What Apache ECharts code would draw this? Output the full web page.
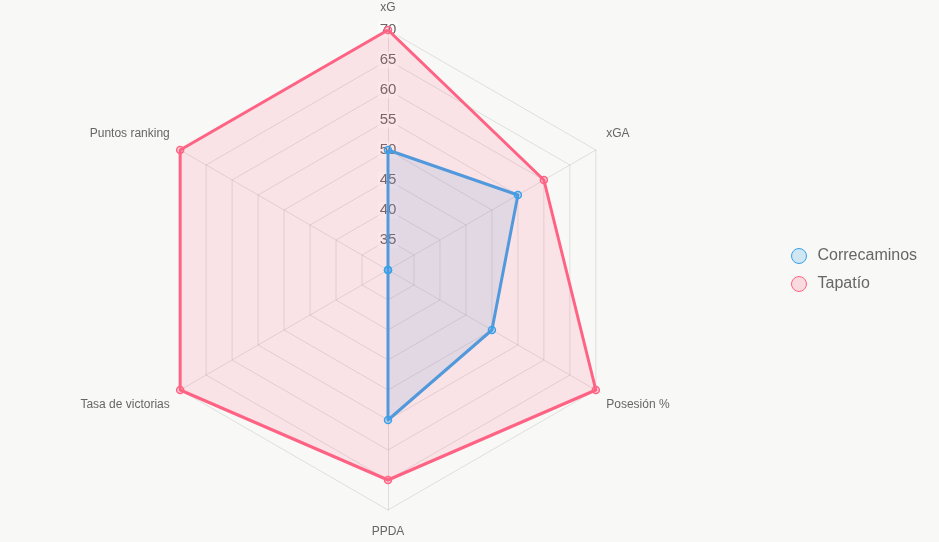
<!DOCTYPE html>
<html>
<head>
<meta charset="utf-8">
<script src="https://cdn.jsdelivr.net/npm/echarts@6/dist/echarts.min.js"></script>
<style>
  html, body { margin: 0; padding: 0; background: #f8f8f6; }
  #chart { width: 939px; height: 542px; }
</style>
</head>
<body>
<div id="chart"></div>
<script>
// axes in clockwise order starting at the top
var categories = ['xG', 'xGA', 'Posesión %', 'PPDA', 'Tasa de victorias', 'Puntos ranking'];
var correcaminos = [50, 55, 50, 55, 30, 30];
var tapatio = [70, 60, 70, 65, 70, 70];
var tickLabels = ['35', '40', '45', '50', '55', '60', '65', '70'];

// echarts lays out radar counter-clockwise, so flip the order after the first axis
function ccw(arr) {
  return [arr[0]].concat(arr.slice(1).reverse());
}

// nudge the axis names the way chart.js places them
var nameShift = {
  'xG': 'top',
  'xGA': 'up',
  'Puntos ranking': 'up',
  'Posesión %': 'down',
  'Tasa de victorias': 'down',
  'PPDA': 'bottom'
};

var chart = echarts.init(document.getElementById('chart'));

var indicator = ccw(categories).map(function (name, i) {
  var ind = { name: name, min: 30, max: 70 };
  if (i === 0) {
    ind.axisLabel = {
      show: true,
      color: '#666',
      fontSize: 15,
      fontFamily: 'Liberation Sans, Arial, sans-serif',
      backgroundColor: 'rgba(255,255,255,0.55)',
      padding: [1, 2],
      margin: 0,
      align: 'center',
      formatter: function (v) { return tickLabels.indexOf(String(v)) >= 0 ? String(v) : ''; }
    };
  }
  return ind;
});

chart.setOption({
  backgroundColor: '#f8f8f6',
  animation: false,
  legend: {
    orient: 'vertical',
    left: 786,
    top: 243,
    icon: 'circle',
    itemWidth: 15,
    itemHeight: 15,
    itemGap: 12,
    textStyle: { color: '#666', fontSize: 16, fontFamily: 'Liberation Sans, Arial, sans-serif', padding: [0, 0, 0, 6] },
    data: [
      { name: 'Correcaminos', itemStyle: { color: 'rgba(54,162,235,0.2)', borderColor: 'rgb(54,162,235)', borderWidth: 1 } },
      { name: 'Tapatío', itemStyle: { color: 'rgba(255,99,132,0.2)', borderColor: 'rgb(255,99,132)', borderWidth: 1 } }
    ]
  },
  radar: {
    center: [388, 270],
    radius: 240,
    startAngle: 90,
    splitNumber: 8,
    shape: 'polygon',
    indicator: indicator,
    axisName: {
      color: '#666',
      fontSize: 12,
      fontFamily: 'Liberation Sans, Arial, sans-serif',
      formatter: function (name) { return '{' + nameShift[name] + '|' + name + '}'; },
      rich: {
        top: { padding: [0, 0, 4, 0] },
        up: { padding: [0, 0, 20, 0] },
        down: { padding: [18, 0, 0, 0] },
        bottom: { padding: [4, 0, 0, 0] }
      }
    },
    nameGap: 12,
    axisLine: { lineStyle: { color: 'rgba(0,0,0,0.1)' } },
    splitLine: { lineStyle: { color: 'rgba(0,0,0,0.1)' } },
    splitArea: { show: false },
    axisTick: { show: false }
  },
  series: [{
    type: 'radar',
    symbol: 'circle',
    symbolSize: 7,
    data: [
      {
        name: 'Correcaminos',
        value: ccw(correcaminos),
        lineStyle: { color: 'rgb(54,162,235)', width: 3 },
        itemStyle: { color: 'rgba(54,162,235,0.2)', borderColor: 'rgb(54,162,235)', borderWidth: 1.5 },
        areaStyle: { color: 'rgba(54,162,235,0.2)' }
      },
      {
        name: 'Tapatío',
        value: ccw(tapatio),
        lineStyle: { color: 'rgb(255,99,132)', width: 3 },
        itemStyle: { color: 'rgba(255,99,132,0.2)', borderColor: 'rgb(255,99,132)', borderWidth: 1.5 },
        areaStyle: { color: 'rgba(255,99,132,0.2)' }
      }
    ]
  }]
});
</script>
</body>
</html>
